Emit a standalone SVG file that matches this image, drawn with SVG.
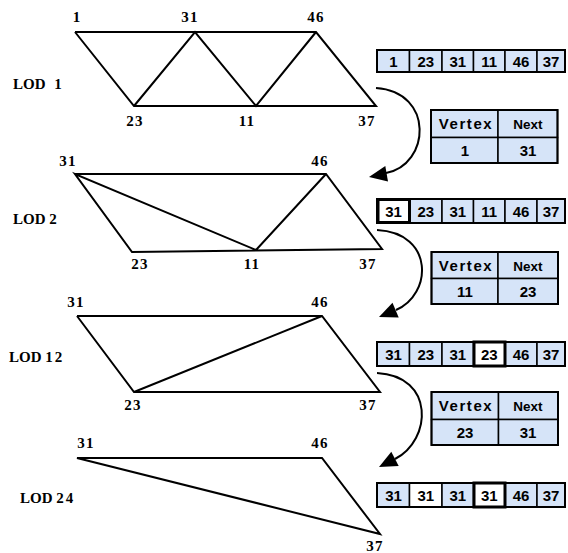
<svg xmlns="http://www.w3.org/2000/svg" width="568" height="553" viewBox="0 0 568 553">
  <style>
    .mesh { fill: none; stroke: #000; stroke-width: 2; stroke-linejoin: miter; }
    .vlab { font-family: "Liberation Serif", "Times New Roman", serif; font-weight: bold; font-size: 15px; letter-spacing: 1.2px; fill: #000; text-anchor: middle; }
    .lod { font-family: "Liberation Serif", "Times New Roman", serif; font-weight: bold; font-size: 15px; fill: #000; }
    .lod .n { letter-spacing: 2px; }
    .cell { fill: #d6e4f8; stroke: #000; stroke-width: 1.5; }
    .cell-w { fill: #fff; stroke: #000; stroke-width: 1.5; }
    .cell-hi { fill: #fff; stroke: #000; stroke-width: 3; }
    .frame { fill: none; stroke: #000; stroke-width: 2; }
    .num { font-family: "Liberation Sans", Arial, sans-serif; font-weight: bold; font-size: 15px; fill: #000; text-anchor: middle; }
    .hdr { font-family: "Liberation Sans", Arial, sans-serif; font-weight: bold; font-size: 15px; letter-spacing: 1.6px; fill: #000; text-anchor: middle; }
    .hdr2 { font-family: "Liberation Sans", Arial, sans-serif; font-weight: bold; font-size: 13.5px; fill: #000; text-anchor: middle; }
    .conn { fill: none; stroke: #000; stroke-width: 2; }
    .head { fill: #000; stroke: none; }
  </style>

  <!-- LOD 1 mesh -->
  <g id="lod1">
    <polyline class="mesh" points="75,32 316,32 376,106 134,106 75,32"/>
    <polyline class="mesh" points="134,106 195,32 256,106 316,32"/>
    <text class="vlab" x="77" y="22">1</text>
    <text class="vlab" x="190" y="22">31</text>
    <text class="vlab" x="316" y="22">46</text>
    <text class="vlab" x="135" y="126">23</text>
    <text class="vlab" x="247" y="126">11</text>
    <text class="vlab" x="367" y="126">37</text>
    <text class="lod" x="13" y="89">LOD <tspan class="n" dx="5">1</tspan></text>
  </g>

  <!-- LOD 2 mesh -->
  <g id="lod2">
    <polyline class="mesh" points="75,174 326,174 382,249 132,252 75,174 256,250 326,174"/>
    <text class="vlab" x="68" y="166">31</text>
    <text class="vlab" x="320" y="166">46</text>
    <text class="vlab" x="140" y="269">23</text>
    <text class="vlab" x="252" y="269">11</text>
    <text class="vlab" x="368" y="269">37</text>
    <text class="lod" x="13" y="224">LOD <tspan class="n">2</tspan></text>
  </g>

  <!-- LOD 12 mesh -->
  <g id="lod12">
    <polyline class="mesh" points="77,316 322,316 380,392 134,392 77,316"/>
    <line class="mesh" x1="134" y1="392" x2="322" y2="316"/>
    <text class="vlab" x="76" y="307">31</text>
    <text class="vlab" x="320" y="307">46</text>
    <text class="vlab" x="133" y="410">23</text>
    <text class="vlab" x="368" y="410">37</text>
    <text class="lod" x="9" y="362">LOD <tspan class="n">12</tspan></text>
  </g>

  <!-- LOD 24 mesh -->
  <g id="lod24">
    <polygon class="mesh" points="77,458 322,458 380,534"/>
    <text class="vlab" x="86" y="448">31</text>
    <text class="vlab" x="320" y="448">46</text>
    <text class="vlab" x="375" y="551">37</text>
    <text class="lod" x="20" y="503">LOD <tspan class="n">24</tspan></text>
  </g>

  <!-- vertex arrays -->
  <g id="array1">
    <rect class="cell" x="377" y="50" width="32.5" height="22"/>
    <rect class="cell" x="409.5" y="50" width="32.5" height="22"/>
    <rect class="cell" x="442" y="50" width="31.5" height="22"/>
    <rect class="cell" x="473.5" y="50" width="31.5" height="22"/>
    <rect class="cell" x="505" y="50" width="32" height="22"/>
    <rect class="cell" x="537" y="50" width="28" height="22"/>
    <rect class="frame" x="377" y="50" width="188" height="22"/>
    <text class="num" x="393.5" y="66.5">1</text>
    <text class="num" x="425.8" y="66.5">23</text>
    <text class="num" x="457.8" y="66.5">31</text>
    <text class="num" x="489.3" y="66.5">11</text>
    <text class="num" x="521" y="66.5">46</text>
    <text class="num" x="551" y="66.5">37</text>
  </g>

  <g id="array2">
    <rect class="cell" x="409.5" y="199" width="32.5" height="24"/>
    <rect class="cell" x="442" y="199" width="31.5" height="24"/>
    <rect class="cell" x="473.5" y="199" width="31.5" height="24"/>
    <rect class="cell" x="505" y="199" width="32" height="24"/>
    <rect class="cell" x="537" y="199" width="28" height="24"/>
    <rect class="frame" x="377" y="199" width="188" height="24"/>
    <rect class="cell-hi" x="378" y="199.5" width="31.5" height="23"/>
    <text class="num" x="393.5" y="216.5">31</text>
    <text class="num" x="425.8" y="216.5">23</text>
    <text class="num" x="457.8" y="216.5">31</text>
    <text class="num" x="489.3" y="216.5">11</text>
    <text class="num" x="521" y="216.5">46</text>
    <text class="num" x="551" y="216.5">37</text>
  </g>

  <g id="array3">
    <rect class="cell" x="377" y="342" width="32.5" height="24"/>
    <rect class="cell" x="409.5" y="342" width="32.5" height="24"/>
    <rect class="cell" x="442" y="342" width="31.5" height="24"/>
    <rect class="cell" x="505" y="342" width="32" height="24"/>
    <rect class="cell" x="537" y="342" width="28" height="24"/>
    <rect class="frame" x="377" y="342" width="188" height="24"/>
    <rect class="cell-hi" x="474" y="342" width="31" height="24"/>
    <text class="num" x="393.5" y="359.5">31</text>
    <text class="num" x="425.8" y="359.5">23</text>
    <text class="num" x="457.8" y="359.5">31</text>
    <text class="num" x="489.3" y="359.5">23</text>
    <text class="num" x="521" y="359.5">46</text>
    <text class="num" x="551" y="359.5">37</text>
  </g>

  <g id="array4">
    <rect class="cell" x="377" y="483" width="32.5" height="24"/>
    <rect class="cell-w" x="409.5" y="483" width="32.5" height="24"/>
    <rect class="cell" x="442" y="483" width="31.5" height="24"/>
    <rect class="cell" x="505" y="483" width="32" height="24"/>
    <rect class="cell" x="537" y="483" width="28" height="24"/>
    <rect class="frame" x="377" y="483" width="188" height="24"/>
    <rect class="cell-hi" x="474" y="483" width="31" height="24"/>
    <text class="num" x="393.5" y="500.5">31</text>
    <text class="num" x="425.8" y="500.5">31</text>
    <text class="num" x="457.8" y="500.5">31</text>
    <text class="num" x="489.3" y="500.5">31</text>
    <text class="num" x="521" y="500.5">46</text>
    <text class="num" x="551" y="500.5">37</text>
  </g>

  <!-- collapse records -->
  <g id="collapse1">
    <rect class="cell" x="431" y="110" width="67" height="27.5"/>
    <rect class="cell" x="498" y="110" width="59.5" height="27.5"/>
    <rect class="cell" x="431" y="137.5" width="67" height="25.5"/>
    <rect class="cell" x="498" y="137.5" width="59.5" height="25.5"/>
    <rect class="frame" x="431" y="110" width="126.5" height="53"/>
    <text class="hdr" x="466" y="129">Vertex</text>
    <text class="hdr2" x="528" y="129">Next</text>
    <text class="num" x="465" y="155.5">1</text>
    <text class="num" x="528" y="155.5">31</text>
  </g>

  <g id="collapse2">
    <rect class="cell" x="431.5" y="252" width="66.5" height="26.5"/>
    <rect class="cell" x="498" y="252" width="60" height="26.5"/>
    <rect class="cell" x="431.5" y="278.5" width="66.5" height="25.5"/>
    <rect class="cell" x="498" y="278.5" width="60" height="25.5"/>
    <rect class="frame" x="431.5" y="252" width="126.5" height="52"/>
    <text class="hdr" x="466" y="271">Vertex</text>
    <text class="hdr2" x="528" y="271">Next</text>
    <text class="num" x="465" y="297">11</text>
    <text class="num" x="528" y="297">23</text>
  </g>

  <g id="collapse3">
    <rect class="cell" x="431.5" y="392" width="67" height="27.5"/>
    <rect class="cell" x="498.5" y="392" width="59.5" height="27.5"/>
    <rect class="cell" x="431.5" y="419.5" width="67" height="25.5"/>
    <rect class="cell" x="498.5" y="419.5" width="59.5" height="25.5"/>
    <rect class="frame" x="431.5" y="392" width="126.5" height="53"/>
    <text class="hdr" x="466" y="411">Vertex</text>
    <text class="hdr2" x="528" y="411">Next</text>
    <text class="num" x="465" y="437.5">23</text>
    <text class="num" x="528" y="437.5">31</text>
  </g>

  <!-- curved arrows from one level to the next -->
  <g id="connectors">
    <path class="conn" d="M376,88 C435,92 430,165 386,173"/>
    <polygon class="head" points="369,177 385.3,166 388,181.6"/>
    <path class="conn" d="M377,230 C435,233 432,295 396,310"/>
    <polygon class="head" points="379,317 392.5,302.7 398.7,317.5"/>
    <path class="conn" d="M377,373 C435,376 432,440 395,459"/>
    <polygon class="head" points="379,467 391.3,451.7 398.7,465.9"/>
  </g>
</svg>
